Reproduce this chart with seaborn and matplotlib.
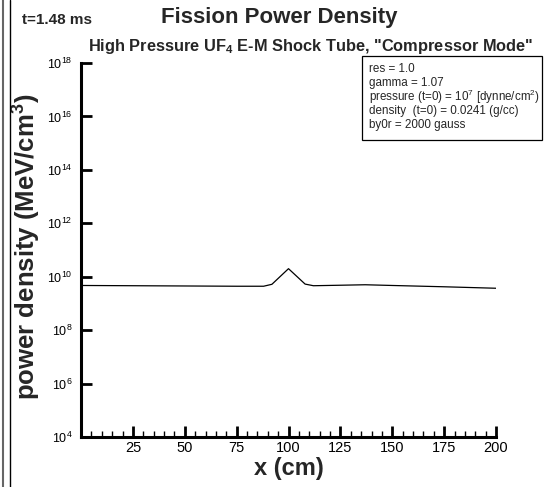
import matplotlib
matplotlib.use("Agg")
import matplotlib.pyplot as plt
import matplotlib.ticker as mticker
import matplotlib.lines as mlines
import matplotlib.patches as mpatches
import seaborn as sns
import pandas as pd

# Fission power density profile along the tube
x_cm = [0, 25, 50, 75, 88, 92, 100, 108, 112, 125, 137, 150, 175, 200]
power_density = [4.7e9, 4.6e9, 4.5e9, 4.4e9, 4.4e9, 5.2e9, 2.0e10, 5.3e9,
                 4.6e9, 4.8e9, 5.0e9, 4.7e9, 4.2e9, 3.7e9]

y_decades = [4, 6, 8, 10, 12, 14, 16, 18]
x_major = [25, 50, 75, 100, 125, 150, 175, 200]

run_params = [
    "res = 1.0",
    "gamma = 1.07",
    "pressure (t=0) = 10$^{7}$ [dynne/cm$^{2}$)",
    "density  (t=0) = 0.0241 (g/cc)",
    "by0r = 2000 gauss",
]

sns.set_theme(style="white")
plt.rcParams["font.family"] = ["Liberation Sans", "DejaVu Sans"]
plt.rcParams["mathtext.default"] = "regular"

df = pd.DataFrame({"x": x_cm, "p": power_density})

W, H = 554, 487
fig = plt.figure(figsize=(W / 100, H / 100), dpi=100)
ax = fig.add_axes([81 / W, 50 / H, 415 / W, 374 / H])

sns.lineplot(data=df, x="x", y="p", ax=ax, color="black", linewidth=0.9)

ax.set_yscale("log")
ax.set_xlim(0, 200)
ax.set_ylim(1e4, 1e18)
ax.set_yticks([10.0 ** d for d in y_decades])
ax.set_yticklabels([f"10$^{{{d}}}$" for d in y_decades])
ax.yaxis.set_minor_locator(mticker.NullLocator())
ax.set_xticks(x_major)
ax.set_xticklabels([str(v) for v in x_major])
ax.xaxis.set_minor_locator(mticker.MultipleLocator(5))

for side in ("top", "right"):
    ax.spines[side].set_visible(False)
for side in ("left", "bottom"):
    ax.spines[side].set_linewidth(2.2)
    ax.spines[side].set_color("black")

ax.tick_params(axis="both", which="major", direction="in", length=8, width=2,
               colors="black")
ax.tick_params(axis="x", which="major", bottom=True, labelsize=10.5, pad=3)
ax.tick_params(axis="y", which="major", left=True, labelsize=9, pad=6)
ax.tick_params(axis="x", which="minor", direction="in", length=4, width=1,
               colors="black", bottom=True)

ax.set_xlabel("x (cm)", fontsize=17, fontweight="bold", labelpad=1)
ax.set_ylabel("power density (MeV/cm$^{3}$)", fontsize=18.5, fontweight="bold",
              labelpad=0)
ax.yaxis.set_label_coords(-(81 - 43) / 415, (437 - 247) / 374)

# parameter box
box_l, box_t, box_r, box_b = 362, 56, 542, 140
ax.add_patch(mpatches.Rectangle(
    ((box_l - 81) / 415, (437 - box_b) / 374),
    (box_r - box_l) / 415, (box_b - box_t) / 374,
    transform=ax.transAxes, facecolor="white", edgecolor="black",
    linewidth=0.9, clip_on=False, zorder=3))
for i, line in enumerate(run_params):
    ax.text((369 - 81) / 415, (437 - (69 + 14 * i)) / 374, line,
            transform=ax.transAxes, ha="left", va="center", fontsize=8.35,
            zorder=4)

fig.text(22 / W, 1 - 20 / H, "t=1.48 ms", fontsize=11, fontweight="bold",
         ha="left", va="center")
fig.text(279 / W, 1 - 17 / H, "Fission Power Density", fontsize=16,
         fontweight="bold", ha="center", va="center")
fig.text(311 / W, 1 - 47 / H,
         'High Pressure UF$_{4}$ E-M Shock Tube, "Compressor Mode"',
         fontsize=11.8, fontweight="bold", ha="center", va="center")

# frame lines at the left edge
fig.add_artist(mlines.Line2D([2.5 / W, 2.5 / W], [0, 1], color="#666666",
                             linewidth=1.5, transform=fig.transFigure))
fig.add_artist(mlines.Line2D([10 / W, 10 / W], [0, 1], color="black",
                             linewidth=1.0, transform=fig.transFigure))

fig.savefig("out.png", dpi=100)
